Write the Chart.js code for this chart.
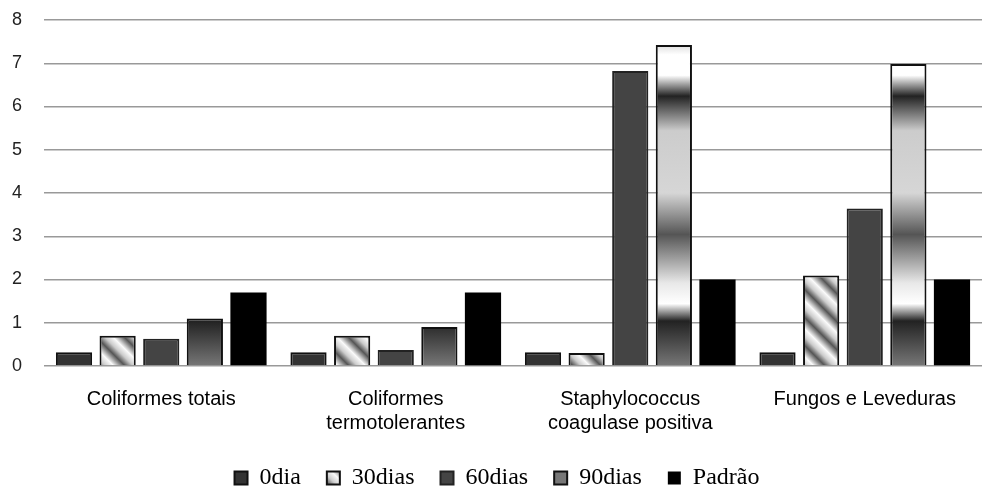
<!DOCTYPE html>
<html>
<head>
<meta charset="utf-8">
<script src="https://cdn.jsdelivr.net/npm/chart.js@4/dist/chart.umd.min.js"></script>
<style>
  html, body { margin: 0; padding: 0; background: #fff; }
  #wrap { width: 985px; height: 487px; }
</style>
</head>
<body>
<div id="wrap"><canvas id="chart"></canvas></div>
<script>
const categories = [
    ['Coliformes totais'],
    ['Coliformes', 'termotolerantes'],
    ['Staphylococcus', 'coagulase positiva'],
    ['Fungos e Leveduras']
];
const seriesNames = ['0dia', '30dias', '60dias', '90dias', 'Padrão'];
const dia0 = [0.32, 0.32, 0.32, 0.32];
const dias30 = [0.7, 0.7, 0.3, 2.09];
const dias60 = [0.63, 0.37, 6.82, 3.64];
const dias90 = [1.1, 0.9, 7.42, 6.98];
const padrao = [1.7, 1.7, 2.0, 2.0];
const yTicks = [0, 1, 2, 3, 4, 5, 6, 7, 8];

// diagonal metallic stripes for 30dias
function stripePattern() {
    const c = document.createElement('canvas');
    c.width = 28; c.height = 28;
    const g = c.getContext('2d');
    const grad = g.createLinearGradient(0, 28, 28, 0);
    grad.addColorStop(0, '#fafafa');
    grad.addColorStop(0.2, '#555');
    grad.addColorStop(0.35, '#ccc');
    grad.addColorStop(0.5, '#fafafa');
    grad.addColorStop(0.7, '#555');
    grad.addColorStop(0.85, '#ccc');
    grad.addColorStop(1, '#fafafa');
    g.fillStyle = grad;
    g.fillRect(0, 0, 28, 28);
    return g.createPattern(c, 'repeat');
}

// banded chrome look for 90dias
function chromeFill(context) {
    const area = context.chart.chartArea;
    if (!area) return '#bbb';
    const g = context.chart.ctx.createLinearGradient(0, area.top, 0, area.bottom);
    g.addColorStop(0, '#888');
    g.addColorStop(0.1, '#fff');
    g.addColorStop(0.16, '#fff');
    g.addColorStop(0.22, '#222');
    g.addColorStop(0.32, '#ccc');
    g.addColorStop(0.5, '#d6d6d6');
    g.addColorStop(0.62, '#555');
    g.addColorStop(0.76, '#e8e8e8');
    g.addColorStop(0.82, '#fff');
    g.addColorStop(0.87, '#222');
    g.addColorStop(1, '#777');
    return g;
}

// shrink the legend box so its text sits lower, closer to the bottom edge
const legendShift = {
    id: 'legendShift',
    afterInit(chart) {
        const lg = chart.legend;
        if (!lg) return;
        const fit = lg.fit.bind(lg);
        lg.fit = function () { fit(); this.height -= 13; };
    }
};

const ctx = document.getElementById('chart').getContext('2d');
new Chart(ctx, {
    type: 'bar',
    data: {
        labels: categories,
        datasets: [
            { label: seriesNames[0], data: dia0, backgroundColor: '#333', borderColor: '#111', borderWidth: 2 },
            { label: seriesNames[1], data: dias30, backgroundColor: stripePattern(), borderColor: '#111', borderWidth: 2 },
            { label: seriesNames[2], data: dias60, backgroundColor: '#444', borderColor: '#222', borderWidth: 2 },
            { label: seriesNames[3], data: dias90, backgroundColor: chromeFill, borderColor: '#111', borderWidth: 2 },
            { label: seriesNames[4], data: padrao, backgroundColor: '#000', borderColor: '#000', borderWidth: 0 }
        ]
    },
    options: {
        responsive: true,
        maintainAspectRatio: false,
        animation: false,
        datasets: {
            bar: { categoryPercentage: 0.93, barPercentage: 0.83 }
        },
        layout: { padding: { top: 20, right: 3, left: 12, bottom: 0 } },
        scales: {
            x: {
                grid: { display: false },
                border: { display: false },
                afterFit: s => { s.height -= 8; },
                ticks: {
                    color: '#000',
                    font: { family: 'Liberation Sans, Arial', size: 20 },
                    padding: 13,
                    maxRotation: 0
                }
            },
            y: {
                min: 0,
                max: 8,
                afterBuildTicks: axis => { axis.ticks = yTicks.map(v => ({ value: v })); },
                afterFit: s => { s.width = 32; },
                grid: { color: '#999', lineWidth: 1.5, drawTicks: false },
                border: { display: false },
                ticks: {
                    color: '#222',
                    crossAlign: 'far',
                    font: { family: 'Liberation Sans, Arial', size: 18 },
                    padding: 4
                }
            }
        },
        plugins: {
            legend: {
                display: true,
                position: 'bottom',
                labels: {
                    color: '#000',
                    boxWidth: 13,
                    boxHeight: 13,
                    padding: 26,
                    font: { family: 'Liberation Serif, Times New Roman', size: 24 }
                }
            },
            tooltip: { enabled: false }
        }
    },
    plugins: [legendShift]
});
</script>
</body>
</html>
